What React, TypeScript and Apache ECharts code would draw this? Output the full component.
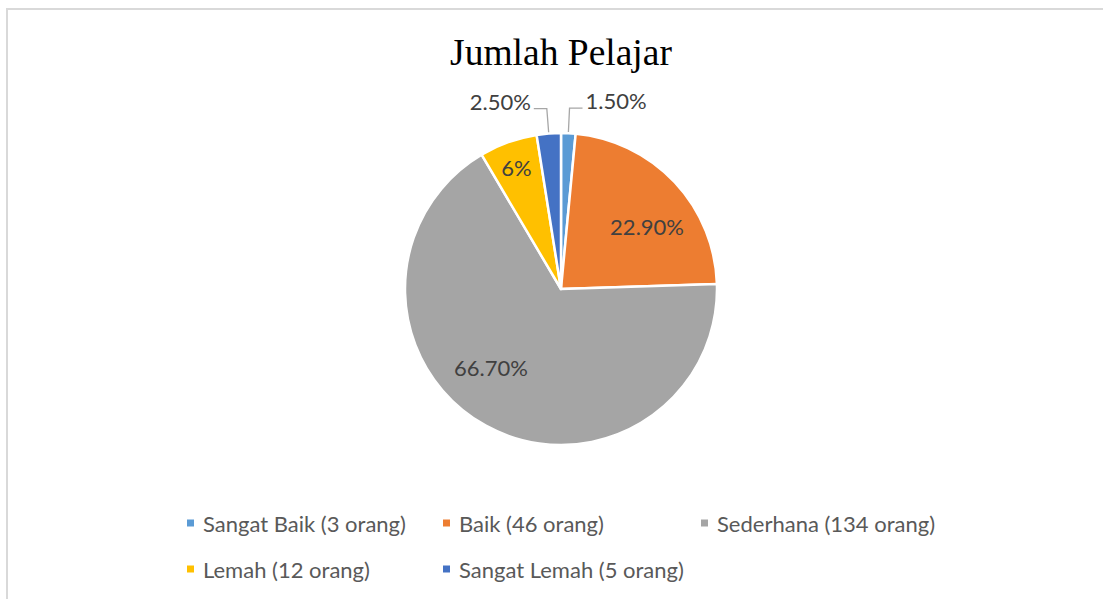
import React, { useEffect, useRef } from "react";
import * as echarts from "echarts";

const categories = [
  "Sangat Baik (3 orang)",
  "Baik (46 orang)",
  "Sederhana (134 orang)",
  "Lemah (12 orang)",
  "Sangat Lemah (5 orang)",
];
const counts = [3, 46, 134, 12, 5];
const percentLabels = ["1.50%", "22.90%", "66.70%", "6%", "2.50%"];
const colors = ["#5B9BD5", "#ED7D31", "#A5A5A5", "#FFC000", "#4472C4"];
const labelOffsets: (number[] | null)[] = [null, [27, -7], [-31, 8], [-17, -45], null];
const outsideLabel = [true, false, false, false, true];

const FONT = "Lato";

export default function App() {
  const ref = useRef<HTMLDivElement>(null);
  useEffect(() => {
    if (!ref.current) return;
    const chart = echarts.init(ref.current, null, { renderer: "svg" });
    const data = categories.map((name, i) => {
      const item: any = {
        name,
        value: counts[i],
        itemStyle: { color: colors[i] },
      };
      if (outsideLabel[i]) {
        item.label = {
          show: true,
          position: "outside",
          distanceToLabelLine: 3,
          formatter: (p: any) => `{t|${percentLabels[p.dataIndex]}}\n{s|}`,
          rich: {
            t: { fontFamily: FONT, fontSize: 22, color: "#404040", lineHeight: 24 },
            s: { height: 15, lineHeight: 15, fontSize: 1 },
          },
        };
        item.labelLine = {
          show: true,
          length: 25,
          length2: 13,
          lineStyle: { color: "#A6A6A6", width: 1.3 },
        };
      } else {
        item.label = {
          show: true,
          position: "inside",
          offset: labelOffsets[i],
        };
        item.labelLine = { show: false };
      }
      return item;
    });
    const legendStyle = {
      orient: "vertical",
      top: 512,
      padding: 0,
      itemWidth: 9,
      itemHeight: 9,
      itemGap: 24,
      icon: "rect",
      selectedMode: false,
      textStyle: {
        fontFamily: FONT,
        fontSize: 22,
        color: "#595959",
        lineHeight: 21,
        padding: [0, 0, 0, 3],
      },
    };
    chart.setOption({
      animation: false,
      backgroundColor: "#ffffff",
      title: {
        text: "Jumlah Pelajar",
        left: 561,
        top: 33,
        padding: 0,
        textAlign: "center",
        textStyle: {
          fontFamily: "Liberation Serif",
          fontSize: 37.5,
          fontWeight: "normal",
          color: "#000000",
        },
      },
      graphic: [
        {
          type: "rect",
          shape: { x: 7, y: 9, width: 1300, height: 800 },
          style: { fill: "none", stroke: "#D9D9D9", lineWidth: 2 },
          silent: true,
        },
      ],
      legend: [
        { ...legendStyle, left: 185, data: [categories[0], categories[3]] },
        { ...legendStyle, left: 441, data: [categories[1], categories[4]] },
        { ...legendStyle, left: 699, data: [categories[2]] },
      ],
      series: [
        {
          type: "pie",
          center: [561, 289],
          radius: [0, 156],
          startAngle: 90,
          clockwise: true,
          avoidLabelOverlap: false,
          itemStyle: { borderColor: "#ffffff", borderWidth: 2.5 },
          label: {
            fontFamily: FONT,
            fontSize: 22,
            color: "#404040",
            formatter: (p: any) => percentLabels[p.dataIndex],
          },
          emphasis: { disabled: true },
          data,
        },
      ],
    });
    return () => chart.dispose();
  }, []);
  return (
    <div
      ref={ref}
      style={{ position: "absolute", left: 0, top: 0, width: 1103, height: 599 }}
    />
  );
}
